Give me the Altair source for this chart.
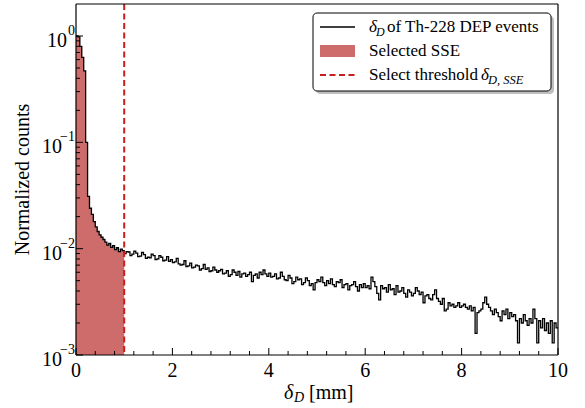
import altair as alt
import pandas as pd

FONT = "Liberation Serif"
RED_FILL = "#ce6b6b"
RED_LINE = "#c81e1e"

# ---------------- data ----------------
BIN_WIDTH = 0.04
counts_core = [  # 0 - 1 mm
    1.00, 0.98, 0.80, 0.63, 0.47, 0.10, 0.031, 0.024, 0.021, 0.018,
    0.016, 0.0145, 0.0135, 0.0128, 0.0122, 0.0115, 0.0108, 0.0112, 0.0103, 0.0107,
    0.0098, 0.0102, 0.0094, 0.0099, 0.0096,
]
counts_tail = [
    # 1 - 2 mm
    0.0090, 0.0094, 0.0093, 0.0086, 0.0089, 0.0095, 0.0091, 0.0084, 0.0085, 0.0092,
    0.0088, 0.0081, 0.0083, 0.0082, 0.0089, 0.0086, 0.0079, 0.0080, 0.0086, 0.0083,
    0.0077, 0.0078, 0.0084, 0.0076, 0.0079,
    # 2 - 3 mm
    0.0074, 0.0075, 0.0081, 0.0072, 0.0070, 0.0071, 0.0077, 0.0068, 0.0069, 0.0073,
    0.0066, 0.0067, 0.0070, 0.0069, 0.0063, 0.0065, 0.0071, 0.0064, 0.0066, 0.0061,
    0.0062, 0.0067, 0.0063, 0.0060, 0.0062,
    # 3 - 4 mm
    0.0064, 0.0058, 0.0059, 0.0062, 0.0055, 0.0057, 0.0063, 0.0060, 0.0056, 0.0061,
    0.0054, 0.0058, 0.0059, 0.0055, 0.0057, 0.0060, 0.0049, 0.0056, 0.0058, 0.0053,
    0.0060, 0.0057, 0.0063, 0.0058, 0.0055,
    # 4 - 5 mm
    0.0059, 0.0054, 0.0055, 0.0058, 0.0052, 0.0053, 0.0060, 0.0055, 0.0051, 0.0050,
    0.0056, 0.0053, 0.0047, 0.0049, 0.0054, 0.0051, 0.0052, 0.0046, 0.0048, 0.0053,
    0.0050, 0.0045, 0.0047, 0.0041, 0.0048,
    # 5 - 6 mm
    0.0051, 0.0049, 0.0054, 0.0048, 0.0045, 0.0050, 0.0047, 0.0052, 0.0046, 0.0044,
    0.0049, 0.0048, 0.0051, 0.0043, 0.0046, 0.0047, 0.0041, 0.0045, 0.0046, 0.0049,
    0.0044, 0.0040, 0.0046, 0.0043, 0.0047,
    # 6 - 7 mm
    0.0043, 0.0045, 0.0042, 0.0054, 0.0049, 0.0044, 0.0038, 0.0033, 0.0045, 0.0042,
    0.0043, 0.0039, 0.0046, 0.0041, 0.0042, 0.0037, 0.0045, 0.0039, 0.0040, 0.0043,
    0.0038, 0.0035, 0.0041, 0.0039, 0.0036,
    # 7 - 8 mm
    0.0038, 0.0043, 0.0040, 0.0037, 0.0039, 0.0031, 0.0036, 0.0037, 0.0034, 0.0033,
    0.0037, 0.0041, 0.0034, 0.0032, 0.0030, 0.0034, 0.0026, 0.0027, 0.0031, 0.0029,
    0.0030, 0.0028, 0.0029, 0.0031, 0.0028,
    # 8 - 9 mm
    0.0029, 0.0030, 0.0028, 0.0027, 0.0029, 0.0026, 0.0028, 0.0016, 0.0025, 0.0026,
    0.0027, 0.0031, 0.0035, 0.0030, 0.0028, 0.0026, 0.0024, 0.0027, 0.0025, 0.0023,
    0.0021, 0.0026, 0.0024, 0.0027, 0.0022,
    # 9 - 10 mm
    0.0025, 0.0023, 0.0024, 0.0021, 0.0013, 0.0022, 0.0020, 0.0024, 0.0021, 0.0019,
    0.0022, 0.0020, 0.0027, 0.0022, 0.0013, 0.0021, 0.0018, 0.0022, 0.0017, 0.0020,
    0.0016, 0.0021, 0.0013, 0.0020, 0.0018,
]
threshold = 1.0
x_major = [0, 2, 4, 6, 8, 10]
x_major_labels = ["0", "2", "4", "6", "8", "10"]
x_minor = [0.4, 0.8, 1.2, 1.6, 2.4, 2.8, 3.2, 3.6, 4.4, 4.8, 5.2, 5.6,
           6.4, 6.8, 7.2, 7.6, 8.4, 8.8, 9.2, 9.6]
y_major = [0.001, 0.01, 0.1, 1.0]
y_major_exp = ["\u22123", "\u22122", "\u22121", "0"]
y_minor = [0.002, 0.003, 0.004, 0.005, 0.006, 0.007, 0.008, 0.009,
           0.02, 0.03, 0.04, 0.05, 0.06, 0.07, 0.08, 0.09,
           0.2, 0.3, 0.4, 0.5, 0.6, 0.7, 0.8, 0.9]
legend_labels = ["of Th-228 DEP events", "Selected SSE", "Select threshold"]
x_title = "[mm]"
y_title = "Normalized counts"

# ---------------- build ----------------
counts = counts_core + counts_tail
bin_left = [round(i * BIN_WIDTH, 2) for i in range(len(counts))]
W, H = 482, 351

xs = alt.Scale(domain=[0, 10], nice=False, zero=False)
ys = alt.Scale(type="log", domain=[0.001, 2.0], nice=False)

hist_df = pd.DataFrame({"d": bin_left + [10.0], "c": counts + [counts[-1]]})
n_sel = sum(1 for b in bin_left if b < threshold - 1e-9)
sel_df = pd.DataFrame({"d": bin_left[:n_sel] + [threshold],
                       "c": counts[:n_sel] + [counts[n_sel - 1]]})
one = pd.DataFrame({"a": [0]})

X = lambda f="d:Q": alt.X(f, scale=xs, axis=None)
Y = lambda f="c:Q": alt.Y(f, scale=ys, axis=None)

area = alt.Chart(sel_df).mark_area(interpolate="step-after", color=RED_FILL, opacity=1).encode(
    x=X(), y=Y(), y2=alt.datum(0.001))
step = alt.Chart(hist_df).mark_line(interpolate="step-after", color="black", strokeWidth=1.3).encode(
    x=X(), y=Y())
thr = alt.Chart(pd.DataFrame({"d": [threshold]})).mark_rule(
    color=RED_LINE, strokeDash=[6, 3.5], strokeWidth=2).encode(x=X())

xmaj_df = pd.DataFrame({"v": x_major, "lab": x_major_labels})
xmin_df = pd.DataFrame({"v": x_minor})
ymaj_df = pd.DataFrame({"v": y_major, "exp": y_major_exp})
ymaj_df["bx"] = [-9 if e == "0" else -14 for e in y_major_exp]
ymin_df = pd.DataFrame({"v": y_minor})

tick_style = dict(color="black", strokeWidth=1)
xt_major = alt.Chart(xmaj_df).mark_rule(**tick_style).encode(
    x=X("v:Q"), y=alt.value(H), y2=alt.value(H - 7))
xt_minor = alt.Chart(xmin_df).mark_rule(**tick_style).encode(
    x=X("v:Q"), y=alt.value(H), y2=alt.value(H - 4))
yt_major = alt.Chart(ymaj_df).mark_rule(**tick_style).encode(
    y=Y("v:Q"), x=alt.value(0), x2=alt.value(7))
yt_minor = alt.Chart(ymin_df).mark_rule(**tick_style).encode(
    y=Y("v:Q"), x=alt.value(0), x2=alt.value(4))

xlab = alt.Chart(xmaj_df).mark_text(font=FONT, fontSize=20, baseline="top", color="black").encode(
    x=X("v:Q"), y=alt.value(H + 6), text="lab:N")
ylab_base = alt.Chart(ymaj_df).mark_text(font=FONT, fontSize=20, align="right",
                                         baseline="middle", dy=5, color="black", text="10").encode(
    y=Y("v:Q"), x=alt.X("bx:Q", scale=None))
ylab_exp = alt.Chart(ymaj_df).mark_text(font=FONT, fontSize=14, align="right",
                                        baseline="middle", dy=-5, color="black").encode(
    y=Y("v:Q"), x=alt.value(-1), text="exp:N")


def txt(s, x, y, size, italic=False, align="left", dy=0, angle=0):
    kw = dict(font=FONT, fontSize=size, align=align, baseline="middle", text=s,
              color="black", dy=dy)
    if italic:
        kw["fontStyle"] = "italic"
    if angle:
        kw["angle"] = angle
    return alt.Chart(one).mark_text(**kw).encode(x=alt.value(x), y=alt.value(y))


def hrule(x1, x2, y, **kw):
    return alt.Chart(one).mark_rule(**kw).encode(x=alt.value(x1), x2=alt.value(x2), y=alt.value(y))


def vrule(x, y1, y2, **kw):
    return alt.Chart(one).mark_rule(**kw).encode(x=alt.value(x), y=alt.value(y1), y2=alt.value(y2))


# axis titles
ytitle = txt(y_title, -53, H / 2, 20, align="center", angle=270)
xt1 = txt("\u03b4", 208, H + 38, 20, italic=True)
xt2 = txt("D", 218, H + 38, 14, italic=True, dy=5)
xt3 = txt(x_title, 233, H + 38, 20)

# frame
fr = dict(color="black", strokeWidth=1.2)
frame = [hrule(0, W, 0, **fr), hrule(0, W, H, **fr), vrule(0, 0, H, **fr), vrule(W, 0, H, **fr)]

# legend
LX0, LX1, LY0, LY1 = 237, 475, 9, 87
shadow = alt.Chart(one).mark_rect(fill="#808080", opacity=0.5, cornerRadius=4).encode(
    x=alt.value(LX0 + 3), x2=alt.value(LX1 + 3), y=alt.value(LY0 + 3), y2=alt.value(LY1 + 3))
box = alt.Chart(one).mark_rect(fill="white", stroke="black", strokeWidth=1, cornerRadius=4).encode(
    x=alt.value(LX0), x2=alt.value(LX1), y=alt.value(LY0), y2=alt.value(LY1))
r1, r2, r3 = 23, 47, 71
h1 = hrule(244, 279, r1, color="black", strokeWidth=1.3)
h2 = alt.Chart(one).mark_rect(fill=RED_FILL).encode(
    x=alt.value(244), x2=alt.value(279), y=alt.value(r2 - 6), y2=alt.value(r2 + 6))
h3 = hrule(244, 279, r3, color=RED_LINE, strokeWidth=2, strokeDash=[6, 3.5])
l1a = txt("\u03b4", 293, r1, 17, italic=True)
l1b = txt("D", 300, r1, 12, italic=True, dy=5)
l1c = txt(legend_labels[0], 311, r1, 17)
l2 = txt(legend_labels[1], 293, r2, 17)
l3a = txt(legend_labels[2], 293, r3, 17)
l3b = txt("\u03b4", 405, r3, 17, italic=True)
l3c = txt("D, SSE", 412, r3, 12.5, italic=True, dy=5)

layers = [area, step, thr, xt_major, xt_minor, yt_major, yt_minor] + frame + [
    xlab, ylab_base, ylab_exp, ytitle, xt1, xt2, xt3,
    shadow, box, h1, h2, h3, l1a, l1b, l1c, l2, l3a, l3b, l3c]

chart = alt.layer(*layers).properties(
    width=W, height=H,
    padding={"left": 76, "top": 4, "right": 27, "bottom": 53},
    autosize=alt.AutoSizeParams(type="none"),
).configure_view(stroke=None)

chart.save("out.html", embed_options={"renderer": "svg", "actions": False})
